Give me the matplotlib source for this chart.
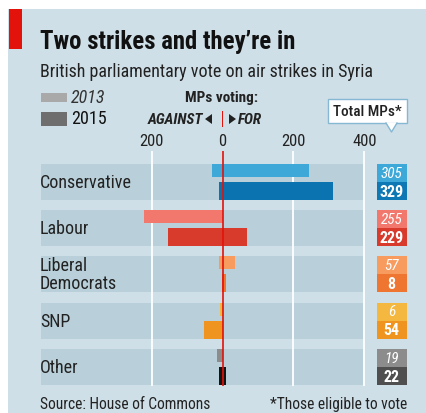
import matplotlib
matplotlib.use("Agg")
import matplotlib.pyplot as plt
from matplotlib.patches import Rectangle, Polygon
import numpy as np

plt.rcParams['font.family'] = ['Liberation Sans Narrow', 'Roboto Condensed', 'Liberation Sans', 'DejaVu Sans']

# data
parties = ["Conservative", "Labour", "Liberal\nDemocrats", "SNP", "Other"]
against_2013 = [30, 222, 9, 6, 15]
for_2013 = [243, 0, 34, 0, 0]
against_2015 = [9, 153, 2, 53, 9]
for_2015 = [313, 68, 10, 0, 11]
total_2013 = [305, 255, 57, 6, 19]
total_2015 = [329, 229, 8, 54, 22]
ticks = [-200, 0, 200, 400]
tick_labels = ["200", "0", "200", "400"]

col_2013 = ["#3ea9d9", "#f2786e", "#f79b5e", "#f4b740", "#8c8c8c"]
col_2015 = ["#0b74b0", "#d83a2c", "#ef7630", "#ef951f", "#141414"]
box_2015 = ["#0d78b4", "#d83a2c", "#ef7630", "#ef951f", "#4f4f4f"]

W, H = 427, 414
BG = "#cfdfe7"
BAND = "#b9d0da"
RED = "#e3120b"

def fx(px):
    return px / W

def fy(py):
    return 1 - py / H

fig = plt.figure(figsize=(W / 100, H / 100), dpi=100)
fig.patch.set_facecolor("white")
fig.patches.append(Rectangle((fx(8), 0), 1, fy(10), transform=fig.transFigure,
                             facecolor=BG, edgecolor="none", zorder=-5))
fig.patches.append(Rectangle((fx(9), fy(50)), fx(13), 40 / H, transform=fig.transFigure,
                             facecolor=RED, edgecolor="none", zorder=-4))

fig.text(fx(40), fy(42), "Two strikes and they\u2019re in", fontsize=17.8, fontweight="bold",
         va="center", ha="left", color="#111111")
fig.text(fx(40), fy(72), "British parliamentary vote on air strikes in Syria", fontsize=13,
         va="center", ha="left", color="#222222")

# legend
fig.patches.append(Rectangle((fx(41), fy(103)), fx(26), 9 / H, transform=fig.transFigure,
                             facecolor="#a9a9a9", edgecolor="none"))
fig.patches.append(Rectangle((fx(41), fy(127)), fx(26), 14 / H, transform=fig.transFigure,
                             facecolor="#6e6e6e", edgecolor="none"))
fig.text(fx(71), fy(98), "2013", fontsize=13, style="italic", va="center", color="#333333")
fig.text(fx(71), fy(119), "2015", fontsize=13, va="center", color="#111111")

fig.text(fx(222), fy(98), "MPs voting:", fontsize=11, fontweight="bold", ha="center",
         va="center", color="#222222")
fig.text(fx(203), fy(120), "AGAINST", fontsize=11, fontweight="bold", style="italic",
         ha="right", va="center", color="#222222")
fig.text(fx(238), fy(120), "FOR", fontsize=11, fontweight="bold", style="italic",
         ha="left", va="center", color="#222222")
fig.patches.append(Polygon([(fx(212), fy(115)), (fx(212), fy(125)), (fx(205), fy(120))],
                           closed=True, transform=fig.transFigure, facecolor="#222222",
                           edgecolor="none"))
fig.patches.append(Polygon([(fx(229), fy(115)), (fx(229), fy(125)), (fx(236), fy(120))],
                           closed=True, transform=fig.transFigure, facecolor="#222222",
                           edgecolor="none"))
fig.patches.append(Rectangle((fx(221.8), fy(128)), 1.6 / W, 16 / H, transform=fig.transFigure,
                             facecolor=RED, edgecolor="none"))

# total MPs callout
fig.patches.append(Rectangle((fx(328), fy(124)), 79 / W, 24 / H, transform=fig.transFigure,
                             facecolor="white", edgecolor="#86b7d3", lw=1))
fig.patches.append(Polygon([(fx(386), fy(123.5)), (fx(397), fy(123.5)), (fx(391.5), fy(133))],
                           closed=True, transform=fig.transFigure, facecolor="white",
                           edgecolor="none", zorder=3))
fig.lines.append(plt.Line2D([fx(386), fx(391.5), fx(397)], [fy(124), fy(133), fy(124)],
                            transform=fig.transFigure, color="#86b7d3", lw=1, zorder=4))
fig.text(fx(367.5), fy(112), "Total MPs*", fontsize=11, fontweight="medium", ha="center",
         va="center", color="#222222", zorder=5)

# main axes, pixel layout
scale = 0.3543          # px per vote
zero_px = 222.6
row_px = 46.2
row0_px = 183
ax_l, ax_r, ax_t, ax_b = 41, 365, 152, 387
ax = fig.add_axes([fx(ax_l), fy(ax_b), (ax_r - ax_l) / W, (ax_b - ax_t) / H])
ax.set_xlim((ax_l - zero_px) / scale, (ax_r - zero_px) / scale)
ax.set_ylim((ax_b - row0_px) / row_px, (ax_t - row0_px) / row_px)
ax.patch.set_alpha(0)
for s in ax.spines.values():
    s.set_visible(False)

rows = np.arange(len(parties))
band_left = (41 - zero_px) / scale
band_right = (363 - zero_px) / scale
ax.barh(rows, band_right - band_left, left=band_left, height=0.78, color=BAND, zorder=0)
for g in [-200, 200, 400]:
    ax.axvline(g, color="white", lw=1.3, zorder=1)

ax.barh(rows - 0.25, np.array(against_2013) + np.array(for_2013), left=-np.array(against_2013),
        height=0.28, color=col_2013, zorder=2)
ax.barh(rows + 0.195, np.array(against_2015) + np.array(for_2015), left=-np.array(against_2015),
        height=0.39, color=col_2015, zorder=2)
ax.axvline(0, color=RED, lw=1.2, zorder=3)

ax.set_xticks(ticks)
ax.set_xticklabels(tick_labels, fontsize=12, color="#222222")
ax.xaxis.tick_top()
ax.tick_params(axis="x", length=0, pad=2)
ax.set_yticks([])

# right hand total boxes
box_left = (376.7 - zero_px) / scale
box_w = 30 / scale
ax.barh(rows - 0.195, box_w, left=box_left, height=0.39, color=col_2013, clip_on=False)
ax.barh(rows + 0.195, box_w, left=box_left, height=0.39, color=box_2015, clip_on=False)
for i in rows:
    ax.text(box_left + box_w / 2, i - 0.2, str(total_2013[i]), fontsize=11, style="italic",
            color="white", ha="center", va="center", clip_on=False)
    ax.text(box_left + box_w / 2, i + 0.2, str(total_2015[i]), fontsize=11.5, fontweight="bold",
            color="white", ha="center", va="center", clip_on=False)
    ax.text(band_left - 1 / scale, i, parties[i], fontsize=13, color="#222222", ha="left",
            va="center", linespacing=1.0)

fig.text(fx(40), fy(405), "Source: House of Commons", fontsize=11.2, va="center", color="#222222")
fig.text(fx(407), fy(405), "*Those eligible to vote", fontsize=11.2, va="center", ha="right",
         color="#222222")

fig.savefig("out.png", dpi=100)
